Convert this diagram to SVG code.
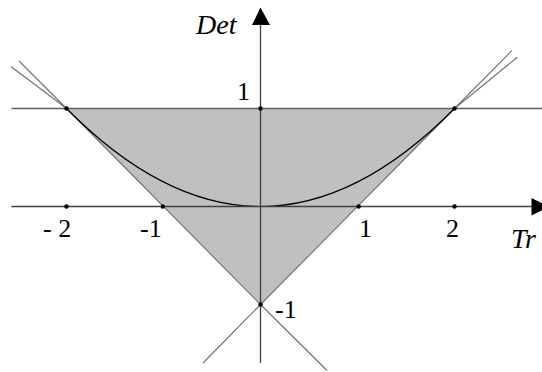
<svg xmlns="http://www.w3.org/2000/svg" width="542" height="372" viewBox="0 0 542 372">
<style>
.thin{fill:none;stroke:#707070;stroke-width:1.1}
.axis{fill:none;stroke:#404040;stroke-width:1.3}
.dot{fill:#000}
</style>
<rect width="542" height="372" fill="#fff"/>
<g id="region">
<polygon points="66.5,108.5 454.5,108.5 260.5,304.5" fill="#c0c0c0"/>
</g>
<g id="connectors">
<line x1="11.5" y1="108.5" x2="542" y2="108.5" stroke="#606060" stroke-width="1.6"/>
<polyline class="thin" points="19,61 66.5,108.5 260.5,304.5 327,370.5"/>
<polyline class="thin" points="511.7,50.7 454.5,108.5 260.5,304.5 203,363"/>
<line class="thin" x1="11" y1="66.5" x2="66.5" y2="108.5"/>
<line class="thin" x1="517.3" y1="57.3" x2="454.5" y2="108.5"/>
<path d="M66.5,108.5 Q260.5,304.5 454.5,108.5" fill="none" stroke="#000" stroke-width="1.2"/>
<line class="axis" x1="11.5" y1="206.5" x2="533" y2="206.5"/>
<polygon points="531.5,198 531.5,215.5 549,206.7" fill="#000"/>
<line class="axis" x1="260.5" y1="363" x2="260.5" y2="24"/>
<polygon points="260.5,7.5 252,25 270,25" fill="#000"/>
</g>
<g id="points">
<circle class="dot" cx="66.5" cy="108.5" r="2.2"/>
<circle class="dot" cx="260.5" cy="108.5" r="2.2"/>
<circle class="dot" cx="454.5" cy="108.5" r="2.2"/>
<circle class="dot" cx="66.5" cy="206.5" r="2.2"/>
<circle class="dot" cx="162.7" cy="206.5" r="2.2"/>
<circle class="dot" cx="358.7" cy="206.5" r="2.2"/>
<circle class="dot" cx="454.5" cy="206.5" r="2.2"/>
<circle class="dot" cx="260.5" cy="304.5" r="2.2"/>
</g>
<g id="labels" font-family="Liberation Serif, Times New Roman, serif" fill="#000">
<text x="196" y="34" font-size="28" font-style="italic">Det</text>
<text x="511" y="248" font-size="28" font-style="italic">Tr</text>
<text x="237" y="100" font-size="26">1</text>
<text x="275" y="318" font-size="26">-1</text>
<text x="43" y="237" font-size="26">- 2</text>
<text x="140" y="237" font-size="26">-1</text>
<text x="359" y="237" font-size="26">1</text>
<text x="446" y="237" font-size="26">2</text>
</g>
</svg>
